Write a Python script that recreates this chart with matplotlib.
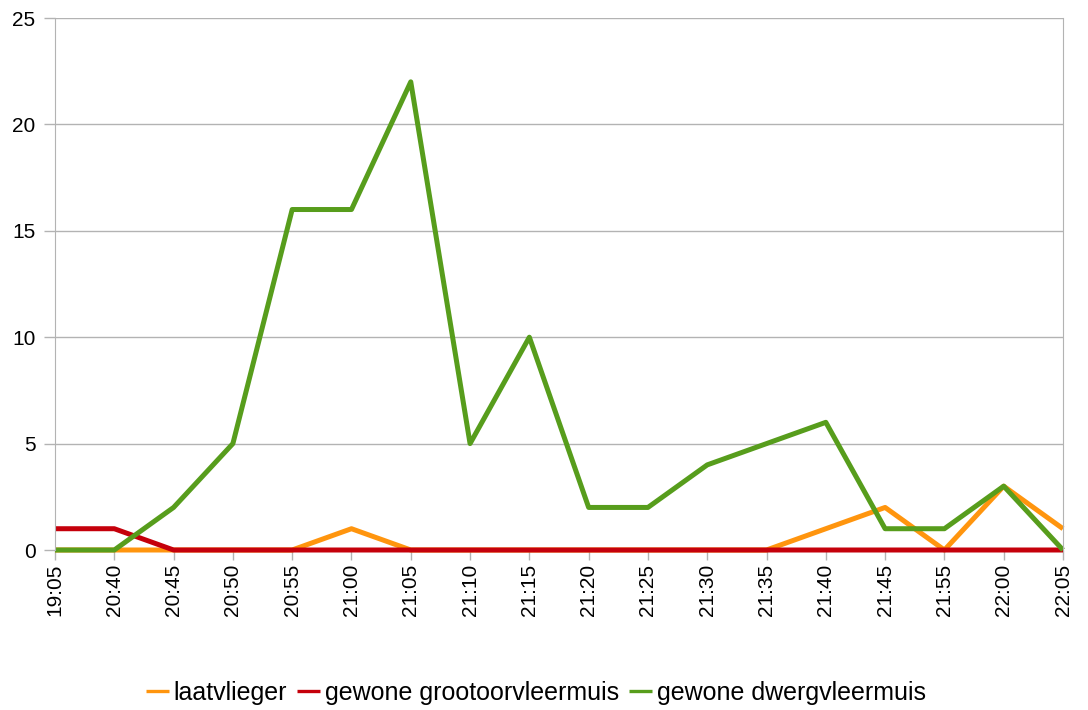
import matplotlib
matplotlib.use('Agg')
import matplotlib.pyplot as plt

plt.rcParams['font.family'] = ['Liberation Sans', 'DejaVu Sans']

tijden = ['19:05', '20:40', '20:45', '20:50', '20:55', '21:00', '21:05', '21:10', '21:15',
          '21:20', '21:25', '21:30', '21:35', '21:40', '21:45', '21:55', '22:00', '22:05']
laatvlieger = [0, 0, 0, 0, 0, 1, 0, 0, 0, 0, 0, 0, 0, 1, 2, 0, 3, 1]
grootoor = [1, 1, 0, 0, 0, 0, 0, 0, 0, 0, 0, 0, 0, 0, 0, 0, 0, 0]
dwerg = [0, 0, 2, 5, 16, 16, 22, 5, 10, 2, 2, 4, 5, 6, 1, 1, 3, 0]

fig = plt.figure(figsize=(10.88, 7.10), dpi=100)
ax = fig.add_axes([55/1088, 1-550/710, (1063-55)/1088, (550-18)/710])

x = list(range(len(tijden)))
stijl = dict(lw=3.6, clip_on=False, solid_capstyle='butt')
ax.plot(x, laatvlieger, color='#ff950e', label='laatvlieger', **stijl)
ax.plot(x, grootoor, color='#c5000b', label='gewone grootoorvleermuis', **stijl)
ax.plot(x, dwerg, color='#579d1c', label='gewone dwergvleermuis', **stijl)

ax.set_xlim(0, len(tijden)-1)
ax.set_ylim(0, 25)
ax.set_yticks(range(0, 26, 5))
ax.set_xticks(x)
ax.set_xticklabels(tijden, rotation=90)
ax.grid(axis='y', color='#b3b3b3', lw=1)
ax.set_axisbelow(True)
for s in ['top', 'bottom']:
    ax.spines[s].set_visible(False)
for s in ['left', 'right']:
    ax.spines[s].set_color('#b3b3b3')
ax.tick_params(axis='both', colors='#b3b3b3', labelcolor='black', labelsize=15, width=1)
ax.tick_params(axis='x', length=7, pad=3)
ax.tick_params(axis='y', length=8, pad=6)

leg = fig.legend(loc='center', bbox_to_anchor=(0.4926, 0.024), ncol=3, frameon=False,
                 fontsize=18, handlelength=0.92, handletextpad=0.2, columnspacing=0.4,
                 borderpad=0, borderaxespad=0)
for h in leg.get_lines():
    h.set_linewidth(2.4)

fig.savefig('out.png', dpi=100)
